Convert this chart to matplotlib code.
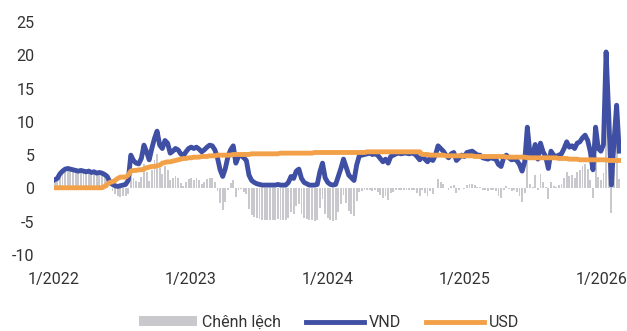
import matplotlib
matplotlib.use("Agg")
import matplotlib.pyplot as plt
import pandas as pd
import numpy as np

plt.rcParams['font.family'] = ['Roboto', 'DejaVu Sans']

# Weekly interbank rates (%), Jan 2022 - Feb 2026
vnd = [
    1.3, 1.5, 2.2, 2.6, 2.9, 3.0, 2.9, 2.8, 2.7, 2.6,
    2.7, 2.6, 2.5, 2.6, 2.4, 2.5, 2.3, 2.4, 2.3, 2.1,
    1.8, 1.0, 0.6, 0.4, 0.3, 0.4, 0.5, 0.6, 1.2, 5.0,
    4.2, 3.8, 3.7, 4.5, 6.5, 5.5, 4.3, 6.0, 7.5, 8.6,
    6.5, 6.0, 7.2, 6.8, 5.3, 5.6, 6.0, 5.8, 5.2, 4.9,
    5.5, 6.0, 6.2, 6.0, 6.2, 5.9, 5.5, 5.8, 6.2, 6.5,
    6.4, 5.8, 4.6, 2.8, 1.8, 3.0, 4.8, 5.8, 6.4, 3.8,
    4.8, 5.0, 4.6, 4.2, 2.0, 1.2, 0.9, 0.7, 0.6, 0.5,
    0.5, 0.5, 0.5, 0.5, 0.5, 0.6, 0.5, 0.5, 0.5, 0.9,
    1.8, 1.5, 2.6, 2.9, 1.5, 0.9, 0.7, 0.5, 0.5, 0.5,
    0.6, 2.5, 3.8, 1.6, 0.9, 0.6, 0.5, 0.6, 1.8, 3.0,
    4.4, 3.2, 2.0, 1.6, 1.2, 3.5, 4.9, 5.0, 5.1, 5.2,
    5.3, 5.1, 5.2, 5.0, 4.5, 4.0, 4.4, 3.8, 4.8, 5.0,
    5.2, 5.3, 5.2, 5.3, 5.3, 5.2, 5.3, 5.2, 4.8, 4.3,
    4.8, 4.4, 4.0, 4.6, 4.2, 5.0, 6.4, 6.0, 5.6, 5.0,
    4.6, 5.2, 5.4, 4.2, 4.6, 5.0, 4.8, 5.4, 5.5, 5.6,
    5.3, 5.0, 5.0, 4.6, 4.5, 4.4, 4.6, 4.5, 4.4, 3.6,
    3.3, 4.6, 5.0, 4.6, 4.3, 4.4, 4.2, 3.6, 2.6, 4.0,
    9.2, 5.2, 4.8, 6.6, 4.4, 6.8, 5.5, 4.8, 3.0, 5.6,
    5.0, 4.8, 5.0, 5.2, 6.0, 7.0, 6.2, 6.4, 6.0, 6.8,
    7.0, 7.6, 8.0, 7.2, 5.5, 2.8, 9.2, 6.0, 5.6, 6.6,
    20.5, 11.0, 0.5, 7.0, 12.5, 5.6,
]

usd = [
    0.1, 0.1, 0.1, 0.1, 0.1, 0.1, 0.1, 0.1, 0.1, 0.1,
    0.1, 0.1, 0.1, 0.1, 0.1, 0.1, 0.1, 0.1, 0.1,
    0.3, 0.6, 0.9, 1.0, 1.2, 1.5, 1.7, 1.7, 1.7, 2.0,
    2.6, 2.7, 2.7, 2.8, 2.8, 2.9, 3.1, 3.2, 3.3, 3.3,
    3.4, 3.5, 3.8, 3.9, 4.0, 4.0, 4.1, 4.2, 4.3, 4.4,
    4.5, 4.5, 4.6, 4.6, 4.7, 4.7, 4.7, 4.8, 4.8, 4.8,
    4.9, 4.9, 4.9, 5.0, 5.0, 5.0, 5.0, 5.0, 5.0, 5.1,
    5.1, 5.1, 5.1, 5.1, 5.1, 5.1, 5.2, 5.2, 5.2, 5.2,
    5.2, 5.2, 5.2, 5.2, 5.2, 5.2, 5.2, 5.3, 5.3, 5.3,
    5.3, 5.3, 5.3, 5.3, 5.3, 5.3, 5.3, 5.3, 5.3, 5.3,
    5.4, 5.4, 5.4, 5.4, 5.4, 5.4, 5.4, 5.4, 5.4, 5.4,
    5.4, 5.4, 5.4, 5.4, 5.4, 5.4, 5.4, 5.4, 5.4, 5.4,
    5.5, 5.5, 5.5, 5.5, 5.5, 5.5, 5.5, 5.5, 5.5, 5.5,
    5.5, 5.5, 5.5, 5.5, 5.5, 5.5, 5.5, 5.5, 5.5, 5.5, 5.5,
    5.1, 5.1, 5.1, 5.0, 5.0, 5.0, 5.0, 5.0, 5.0, 4.9,
    4.9, 4.9, 4.9, 4.9, 4.9, 4.9, 4.9, 4.9, 4.9, 4.9,
    4.8, 4.8, 4.8, 4.8, 4.8, 4.8, 4.8, 4.8, 4.8, 4.8,
    4.8, 4.8, 4.7, 4.7, 4.7, 4.7, 4.7, 4.7, 4.7, 4.7,
    4.6, 4.6, 4.6, 4.6, 4.6, 4.6, 4.6, 4.6, 4.6, 4.6,
    4.6, 4.6, 4.5, 4.5, 4.5, 4.5, 4.4, 4.4, 4.4, 4.4,
    4.3, 4.3, 4.3, 4.3, 4.3, 4.3, 4.3, 4.3, 4.3, 4.3,
    4.3, 4.2, 4.2, 4.2, 4.2, 4.2,
]

assert len(vnd) == len(usd)

dates = pd.date_range("2022-01-03", periods=len(vnd), freq="W-MON")
spread = np.array(vnd) - np.array(usd)

x_ticks = ["2022-01-01", "2023-01-01", "2024-01-01", "2025-01-01", "2026-01-01"]
x_tick_labels = ["1/2022", "1/2023", "1/2024", "1/2025", "1/2026"]
y_ticks = [-10, -5, 0, 5, 10, 15, 20, 25]

blue = "#3f4fa3"
orange = "#f2a149"
grey = "#c9c9cd"
text_col = "#333333"

fig = plt.figure(figsize=(6.27, 3.31), dpi=100)
ax = fig.add_axes([0.086, 0.2296, 0.904, 0.7039])

bars = ax.bar(dates, spread, width=5.0, color=grey, linewidth=0, zorder=1)
l_vnd, = ax.plot(dates, vnd, color=blue, lw=3.5, solid_joinstyle="round", zorder=2)
l_usd, = ax.plot(dates, usd, color=orange, lw=3.5, solid_joinstyle="round", zorder=3)

ax.set_ylim(-10, 25)
ax.set_yticks(y_ticks)
ax.set_yticklabels([str(v) for v in y_ticks])
ax.set_xlim(pd.Timestamp("2022-01-01"), pd.Timestamp("2026-02-20"))
ax.set_xticks([pd.Timestamp(d) for d in x_ticks])
ax.set_xticklabels(x_tick_labels)

for s in ax.spines.values():
    s.set_visible(False)
ax.tick_params(axis="both", length=0, labelsize=11.5, colors=text_col)
ax.tick_params(axis="y", pad=14)
ax.tick_params(axis="x", pad=12)

fig.legend([bars, l_vnd, l_usd], ["Chênh lệch", "VND", "USD"], loc="center",
           bbox_to_anchor=(0.525, 0.026), ncol=3, frameon=False, fontsize=11.5,
           handlelength=3.6, handleheight=0.6, handletextpad=0.3,
           columnspacing=1.6, labelcolor=text_col)

fig.savefig("out.png", dpi=100, facecolor="white")
